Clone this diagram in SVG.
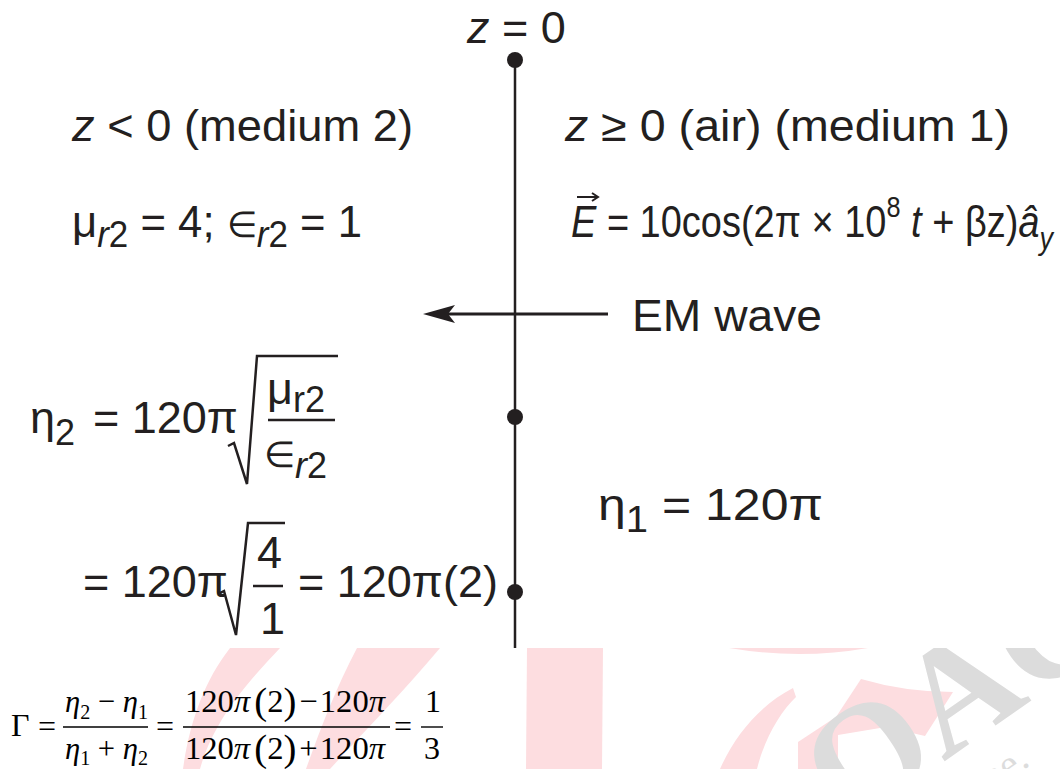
<svg xmlns="http://www.w3.org/2000/svg" width="1060" height="769" viewBox="0 0 1060 769">
<defs>
<style>
.t{font-family:"Liberation Sans",Arial,sans-serif;font-size:45px;fill:#231f20}
.s{font-size:36px}
.i{font-style:italic}
.m{font-family:"Liberation Serif","Times New Roman",serif;font-size:32px;fill:#000}
.ln{stroke:#231f20;stroke-width:2.5;fill:none}
.bar{stroke:#000;stroke-width:1.4}
.pk{fill:#fddde0}
.wm{font-family:"Liberation Serif","Times New Roman",serif;fill:#dcdcdc}
</style>
<clipPath id="lower"><rect x="0" y="648" width="1060" height="121"/></clipPath>
</defs>
<rect width="1060" height="769" fill="#fff"/>

<g id="watermark" clip-path="url(#lower)">
<path class="pk" d="M230,648 L280,648 C255,675 215,715 200,769 L183,769 C190,720 205,680 230,648 Z"/>
<path class="pk" d="M357,648 L440,648 C405,690 370,725 330,769 L306,769 C320,730 335,690 357,648 Z"/>
<path class="pk" d="M527,648 L603,648 L602,769 L526,769 Z"/>
<path class="pk" d="M729,648 Q800,660 868,648 Z"/>
<path class="pk" d="M793,688 L796,697 C780,712 764,740 757,769 L720,769 C735,735 760,705 793,688 Z"/>
<path class="pk" d="M861,679 Q905,692 953,692 L925,736 L886,727 L838,735 L838,769 L798,769 L798,742 L836,717 Z"/>
<text class="wm" font-size="150" font-weight="bold" transform="translate(848,829) rotate(-35)">OAC</text>
<text class="wm" font-size="40" transform="translate(992,792) rotate(-35)">ne.</text>
</g>

<g id="connectors">
<line class="ln" x1="515" y1="60" x2="515" y2="648"/>
<line x1="608" y1="314" x2="445" y2="314" stroke="#231f20" stroke-width="3"/>
<path d="M423,314 L455,305 L448,314 L455,323 Z" fill="#231f20"/>
</g>

<g id="interface-points" fill="#231f20">
<circle cx="515" cy="60" r="8"/>
<circle cx="515" cy="417" r="8"/>
<circle cx="515" cy="592" r="8"/>
</g>

<g id="label-z0"><text class="t" x="467" y="43"><tspan class="i">z</tspan> = 0</text></g>

<g id="medium2">
<text class="t" x="72" y="141" textLength="341" lengthAdjust="spacingAndGlyphs"><tspan class="i">z</tspan> &lt; 0 (medium 2)</text>
<text class="t" x="72" y="237" textLength="290" lengthAdjust="spacingAndGlyphs">μ<tspan class="s i" dy="10">r</tspan><tspan class="s">2</tspan><tspan dy="-10"> = 4; </tspan><tspan class="s">∈</tspan><tspan class="s i" dy="10">r</tspan><tspan class="s">2</tspan><tspan dy="-10"> = 1</tspan></text>
</g>

<g id="medium1">
<text class="t" x="565" y="141" textLength="445" lengthAdjust="spacingAndGlyphs"><tspan class="i">z</tspan> ≥ 0 (air) (medium 1)</text>
<text class="t" x="571" y="237" textLength="482" lengthAdjust="spacingAndGlyphs"><tspan class="i">E</tspan> = 10cos(2π × 10<tspan dy="-20" font-size="30">8</tspan><tspan dy="20" class="i"> t</tspan> + βz)<tspan class="i">â</tspan><tspan dy="12" font-size="32" class="i">y</tspan></text>
<path d="M577,197 L597,197 M592,193 L598,197 L592,201" stroke="#231f20" stroke-width="2" fill="none"/>
</g>

<g id="em-wave"><text class="t" x="632" y="331" textLength="190" lengthAdjust="spacingAndGlyphs">EM wave</text></g>

<g id="eta2">
<text class="t" x="30" y="433">η<tspan class="s" dy="12">2</tspan></text>
<text class="t" x="93" y="433">= 120π</text>
<path class="ln" d="M228,446 L234,443 L247,484 L257,356 L338,356"/>
<text class="t" x="267" y="404">μ<tspan class="s" dy="8">r2</tspan></text>
<line class="ln" x1="268" y1="420" x2="335" y2="420"/>
<text class="t s" x="264" y="467">∈<tspan class="i" dy="11">r</tspan><tspan>2</tspan></text>
</g>

<g id="eta2-value">
<text class="t" x="83" y="597">= 120π</text>
<path class="ln" d="M218,594 L224,591 L236,635 L248,523 L285,523"/>
<text class="t" x="257" y="568">4</text>
<line class="ln" x1="253" y1="586" x2="283" y2="586"/>
<text class="t" x="260" y="634">1</text>
<text class="t" x="298" y="597">= 120π(2)</text>
</g>

<g id="eta1"><text class="t" x="598" y="520" textLength="225" lengthAdjust="spacingAndGlyphs">η<tspan class="s" dy="12">1</tspan><tspan dy="-12"> = 120π</tspan></text></g>

<g id="gamma">
<text class="m" x="11" y="736" font-size="37">Γ</text>
<text class="m" x="38" y="737">=</text>
<text class="m" x="65" y="712" textLength="83" lengthAdjust="spacingAndGlyphs"><tspan class="i">η</tspan><tspan dy="7" font-size="21">2</tspan><tspan dy="-7"> − </tspan><tspan class="i">η</tspan><tspan dy="7" font-size="21">1</tspan></text>
<line class="bar" x1="63" y1="727" x2="148" y2="727"/>
<text class="m" x="65" y="759" textLength="83" lengthAdjust="spacingAndGlyphs"><tspan class="i">η</tspan><tspan dy="6" font-size="21">1</tspan><tspan dy="-6"> + </tspan><tspan class="i">η</tspan><tspan dy="6" font-size="21">2</tspan></text>
<text class="m" x="156" y="737">=</text>
<text class="m" x="185" y="712" textLength="200" lengthAdjust="spacingAndGlyphs">120<tspan class="i">π</tspan><tspan dx="4" font-size="38" dy="2">(</tspan><tspan dy="-2">2</tspan><tspan font-size="38" dy="2">)</tspan><tspan dx="3" dy="-2">−</tspan><tspan dx="2">120</tspan><tspan class="i">π</tspan></text>
<line class="bar" x1="183" y1="727" x2="390" y2="727"/>
<text class="m" x="185" y="759" textLength="200" lengthAdjust="spacingAndGlyphs">120<tspan class="i">π</tspan><tspan dx="4" font-size="38" dy="2">(</tspan><tspan dy="-2">2</tspan><tspan font-size="38" dy="2">)</tspan><tspan dx="3" dy="-2">+</tspan><tspan dx="2">120</tspan><tspan class="i">π</tspan></text>
<text class="m" x="394" y="737">=</text>
<text class="m" x="425" y="712">1</text>
<line class="bar" x1="421" y1="727" x2="443" y2="727"/>
<text class="m" x="424" y="759">3</text>
</g>
</svg>
